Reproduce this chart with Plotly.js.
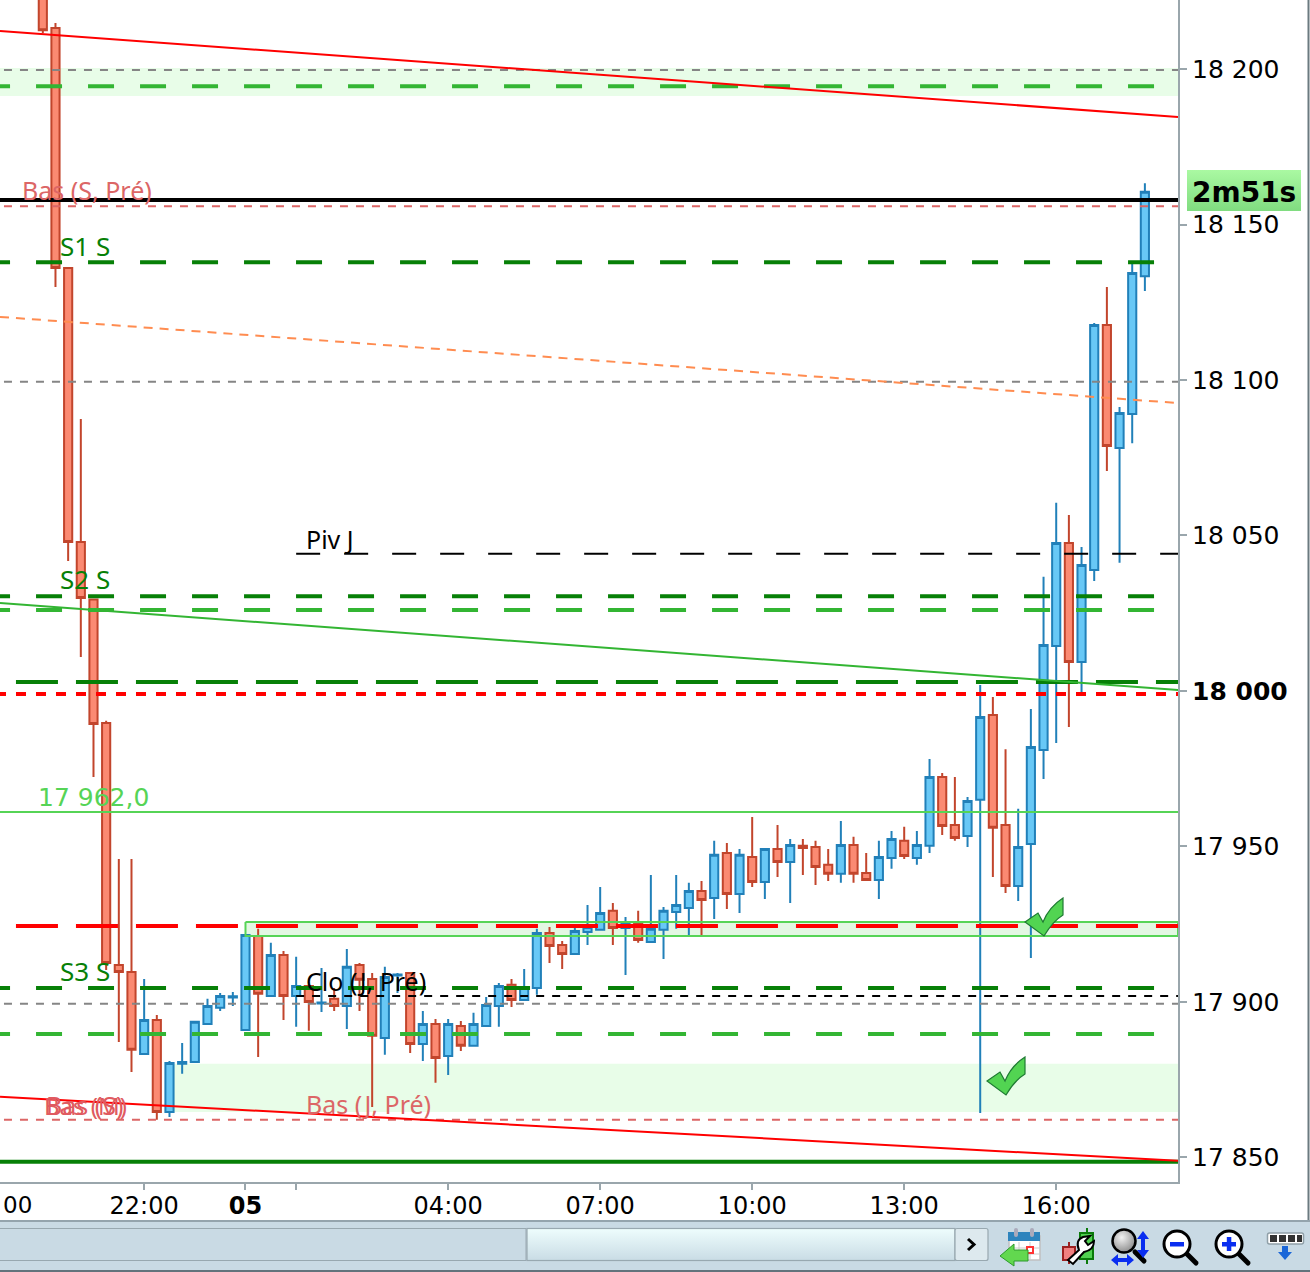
<!DOCTYPE html>
<html>
<head>
<meta charset="utf-8">
<script src="https://cdn.plot.ly/plotly-3.0.1.min.js"></script>
<style>html,body{margin:0;padding:0;background:#fff;overflow:hidden}#c{width:1310px;height:1272px}</style>
</head>
<body>
<div id="c"></div>
<script>
// ---------- candle values (15 minute bars, from 20:00 on the 4th) ----------
const firstBar = Date.UTC(2024, 5, 4, 20, 0);
const open = [18236,18213.2,18136.0,18047.9,18029.4,17989.7,17911.9,17909.6,17883.3,17894.2,17864.6,17880.1,17880.7,17892.9,17898.1,17901.4,17891.0,17921.2,17901.9,17915.1,17901.9,17905.1,17899.5,17901.0,17898.7,17911.9,17907.4,17888.4,17908.5,17909.3,17886.5,17892.9,17882.6,17892.3,17885.9,17892.3,17898.7,17905.5,17900.6,17904.5,17922.2,17918.3,17915.4,17922.5,17923.2,17929.3,17923.8,17925.4,17919.3,17923.2,17928.9,17930.2,17935.7,17933.4,17947.9,17934.7,17946.6,17938.6,17949.2,17945.0,17950.2,17949.8,17944.1,17941.2,17950.5,17941.5,17939.2,17946.3,17951.8,17946.3,17950.2,17972.3,17956.9,17953.4,17965.0,17992.3,17956.9,17937.3,17950.8,17981.0,18014.5,18047.6,18009.3,18038.9,18117.7,18078.1,18089.1,18133.4];
const close = [18212.5,18136.0,18047.9,18029.9,17989.4,17912.5,17909.6,17884.6,17894.2,17864.6,17880.4,17880.7,17893.6,17898.7,17901.9,17901.8,17921.5,17902.6,17915.1,17901.9,17905.1,17900.0,17899.8,17898.7,17911.3,17907.1,17889.1,17908.0,17908.8,17886.5,17892.9,17882.0,17892.9,17885.9,17892.9,17899.0,17905.1,17900.6,17904.8,17922.2,17918.0,17915.4,17922.8,17924.1,17928.6,17923.8,17925.4,17919.9,17923.5,17929.3,17931.2,17935.7,17932.8,17947.3,17934.7,17947.3,17938.6,17949.2,17945.0,17950.5,17949.5,17943.4,17941.2,17950.5,17941.2,17939.2,17946.6,17952.4,17946.9,17950.5,17972.3,17956.6,17952.7,17964.6,17991.6,17956.0,17937.3,17949.8,17982.0,18014.8,18047.6,18009.3,18040.5,18117.7,18078.8,18089.4,18134.4,18160.5];
const high = [18240,18214.8,18136.0,18087.5,18029.4,17990.4,17946.0,17946.0,17907.4,17895.8,17881.0,17886.8,17893.6,17901.0,17902.9,17903.2,17921.5,17923.5,17919.0,17916.4,17914.5,17905.5,17910.9,17904.5,17917.0,17912.5,17909.3,17911.3,17909.3,17909.6,17897.1,17894.5,17894.5,17893.9,17896.5,17901.6,17906.1,17907.4,17910.6,17923.5,17924.1,17919.6,17923.8,17931.2,17937.0,17931.8,17927.3,17929.3,17940.8,17930.5,17940.8,17938.3,17938.9,17951.8,17951.1,17949.2,17959.5,17949.2,17956.9,17952.4,17952.4,17951.8,17949.2,17958.2,17953.1,17947.9,17951.8,17955.0,17956.3,17955.0,17978.1,17973.6,17972.3,17965.9,18001.9,17998.1,17981.3,17962.1,17994.2,18036.7,18060.5,18056.6,18046.3,18118.3,18129.9,18091.3,18137.6,18163.3];
const low = [18211.6,18129.9,18041.8,18010.9,17972.3,17910.3,17887.1,17877.5,17883.3,17862.1,17863.0,17876.9,17880.7,17892.9,17897.1,17898.7,17891.0,17882.3,17901.9,17894.2,17892.0,17890.7,17896.8,17897.1,17891.3,17897.1,17866.2,17883.0,17902.9,17883.6,17881.0,17874.0,17876.5,17884.2,17885.9,17892.3,17892.0,17898.4,17900.6,17902.3,17912.5,17910.6,17915.4,17918.3,17923.2,17918.3,17908.7,17919.0,17919.3,17913.8,17923.5,17921.5,17921.5,17926.7,17929.9,17928.6,17937.0,17933.1,17940.2,17931.8,17940.8,17937.6,17938.9,17938.3,17938.3,17939.2,17933.1,17942.8,17946.0,17944.1,17947.9,17953.7,17951.8,17949.8,17864.3,17940.2,17935.0,17932.5,17914.1,17971.7,17983.3,17988.4,17999.4,18035.4,18070.7,18041.2,18079.7,18128.6];
const pad = n => String(n).padStart(2, '0');
const stamp = ms => { const d = new Date(ms); return `${d.getUTCFullYear()}-${pad(d.getUTCMonth()+1)}-${pad(d.getUTCDate())} ${pad(d.getUTCHours())}:${pad(d.getUTCMinutes())}:${pad(d.getUTCSeconds())}`; };
const times = open.map((_, i) => stamp(firstBar + i * 900000));

// ---------- axes ----------
const xRange = ['2024-06-04 19:09:18', '2024-06-05 18:24:13'];
const yRange = [17842.1, 18222.2];
const yTicks = [17850,17900,17950,18000,18050,18100,18150,18200];
const yLabels = ['17 850','17 900','17 950','<b>18 000</b>','18 050','18 100','18 150','18 200'];
const xTicks = ['2024-06-04 22:00','2024-06-05 00:00','2024-06-05 01:00','2024-06-05 04:00','2024-06-05 07:00','2024-06-05 10:00','2024-06-05 13:00','2024-06-05 16:00'];
const xLabels = ['22:00','<b>05</b>','','04:00','07:00','10:00','13:00','16:00'];

// ---------- line start times ----------
const end = xRange[1];
const dayStart = xRange[0];
const longDashStart = '2024-06-04 18:50:24';
const wideDashStart = '2024-06-04 19:28:12';
const dotStart = '2024-06-04 19:04:34';
const fineStart = '2024-06-04 19:14:00';
const pivStart = '2024-06-05 01:00';

// ---------- price levels ----------
const trendTop = [18212.2, 18184.6];
const trendOrange = [18120.3, 18092.6];
const trendGreen = [18028.3, 18000.3];
const trendLow = [17869.5, 17848.9];
const greyLevels = [18199.7, 18099.4, 17899.4];
const pinkLevels = [18155.9, 17862.1];
const lightGreenLevels = [18194.5, 18026.0, 17889.7];
const darkGreenLevels = [18137.9, 18030.5, 17904.5];
const darkGreenWide = 18002.9;
const redDotted = 17999.0;
const redWide = 17924.4;
const blackLevel = 18157.9;
const pivLevel = 18044.1;
const cloLevel = 17901.9;
const greenSolid = 17961.1;
const greenFloor = 17848.6;
const bandTop = [18200.3, 18191.3];
const bandLow = [17880.1, 17864.6];
const bandLowStart = '2024-06-04 22:30';
const boxLevels = [17925.7, 17921.2];
const boxStart = '2024-06-05 00:00';

// ---------- colours ----------
const GREEN_L = '#33b533', GREEN_D = '#078007', GREY = '#858585', PINK = '#dc6666', GREEN_S = '#56d456';
const DASH_LONG = '26px,26px', DASH_WIDE = '42px,18px', DASH_DOT = '10px,10px', DASH_FINE = '8px,8px';

const line = (x, y, color, width, dash) => ({
  type: 'scatter', mode: 'lines', x, y, hoverinfo: 'skip', showlegend: false,
  line: {color, width, dash: dash || 'solid', simplify: false}
});
const level = (x0, v, color, width, dash) => line([x0, end], [v, v], color, width, dash);

const traces = [{
  type: 'candlestick', x: times, open, high, low, close,
  whiskerwidth: 0, hoverinfo: 'skip', showlegend: false,
  increasing: {fillcolor: '#68c8f6', line: {color: '#2180b9', width: 2}},
  decreasing: {fillcolor: '#fb8a72', line: {color: '#c2452c', width: 2}}
}];
greyLevels.forEach(v => traces.push(level(fineStart, v, GREY, 2, DASH_FINE)));
pinkLevels.forEach(v => traces.push(level(fineStart, v, PINK, 2, DASH_FINE)));
lightGreenLevels.forEach(v => traces.push(level(longDashStart, v, GREEN_L, 4, DASH_LONG)));
darkGreenLevels.forEach(v => traces.push(level(longDashStart, v, GREEN_D, 4, DASH_LONG)));
traces.push(level(wideDashStart, darkGreenWide, GREEN_D, 4, DASH_WIDE));
traces.push(level(dotStart, redDotted, '#ff0000', 4, DASH_DOT));
traces.push(level(dayStart, blackLevel, '#000000', 4));
traces.push(level(pivStart, pivLevel, '#000000', 2, '24px,24px'));
traces.push(level(pivStart, cloLevel, '#000000', 2, DASH_FINE));
traces.push(level(dayStart, greenSolid, GREEN_S, 2));
traces.push(level(dayStart, greenFloor, GREEN_D, 4));
traces.push(line([boxStart, end, end, boxStart, boxStart], [boxLevels[0], boxLevels[0], boxLevels[1], boxLevels[1], boxLevels[0]], GREEN_S, 2));
traces.push(level(wideDashStart, redWide, '#ff0000', 4, DASH_WIDE));
traces.push(line([dayStart, end], trendTop, '#ff0000', 2));
traces.push(line([dayStart, end], trendOrange, '#ff8c50', 2, '9px,7px'));
traces.push(line([dayStart, end], trendGreen, GREEN_L, 2));
traces.push(line([dayStart, end], trendLow, '#ff0000', 2));

// ---------- page furniture ----------
const PW = 1178, PH = 1182;
const px = x => x / PW, py = y => 1 - y / PH;
const note = (text, x, y, color, size, anchor, family) => ({
  text, xref: 'paper', yref: 'paper', x: px(x), y: py(y), showarrow: false,
  xanchor: anchor || 'left', yanchor: 'middle',
  font: {family: family || 'Noto Sans', size, color}
});
const svg = s => 'data:image/svg+xml;charset=utf-8,' + encodeURIComponent(s);
const pic = (source, x, y, w, h) => ({
  source, xref: 'paper', yref: 'paper', x: px(x), y: py(y), sizex: w / PW, sizey: h / PH,
  xanchor: 'left', yanchor: 'top', sizing: 'stretch', layer: 'above'
});
const CHECK = svg('<svg xmlns="http://www.w3.org/2000/svg" width="40" height="40" viewBox="0 0 40 40"><path d="M1,25 L14,16 L19,25 Q25,10 39,1 L39,18 Q29,24 20,39 Z" fill="#52d452" stroke="#1f7a33" stroke-width="1.2"/></svg>');
const TIMER = svg('<svg xmlns="http://www.w3.org/2000/svg" width="114" height="41"><defs><linearGradient id="g" x1="0" y1="0" x2="0" y2="1"><stop offset="0" stop-color="#aaf9a2"/><stop offset="1" stop-color="#80dc80"/></linearGradient></defs><rect width="114" height="41" fill="url(#g)"/></svg>');
const lens = (cx, cy, mark) => `<line x1="${cx+9}" y1="${cy+9}" x2="${cx+19}" y2="${cy+19}" stroke="#000" stroke-width="5" stroke-linecap="round"/><circle cx="${cx}" cy="${cy}" r="13" fill="#fff" stroke="#000" stroke-width="3"/>${mark}`;
const TOOLBAR = svg(`<svg xmlns="http://www.w3.org/2000/svg" width="1310" height="52" viewBox="0 1220 1310 52">
<defs><linearGradient id="t" x1="0" y1="0" x2="0" y2="1"><stop offset="0" stop-color="#eefdfd"/><stop offset="1" stop-color="#c9dce5"/></linearGradient>
<radialGradient id="b" cx="0.4" cy="0.35" r="0.7"><stop offset="0" stop-color="#f2f2f2"/><stop offset="1" stop-color="#888"/></radialGradient></defs>
<rect x="0" y="1220" width="1310" height="52" fill="#c9dae4"/>
<rect x="0" y="1220" width="1310" height="2" fill="#94a4ad"/>
<rect x="0" y="1270" width="1310" height="2" fill="#63737c"/>
<rect x="-2" y="1228.5" width="528" height="32" fill="#c9dae4" stroke="#98a8b0" stroke-width="1"/>
<rect x="527" y="1228.5" width="428" height="32" fill="url(#t)" stroke="#98a8b0" stroke-width="1.2"/>
<rect x="955" y="1228.5" width="33" height="32" rx="2" fill="#dde9ee" stroke="#98a8b0" stroke-width="1.2"/>
<path d="M968,1239 L974,1244.5 L968,1250" fill="none" stroke="#000" stroke-width="3"/>
<rect x="1009" y="1236" width="31" height="24" fill="#fff" stroke="#c0c0c0" stroke-width="1.5"/>
<path d="M1009,1248 H1040 M1009,1254 H1040 M1019,1242 V1260 M1030,1242 V1260" stroke="#ccc" stroke-width="1"/>
<rect x="1008" y="1232" width="32" height="9" fill="#2d84bd"/>
<rect x="1014" y="1228" width="4" height="9" rx="2" fill="#aab"/><rect x="1030" y="1228" width="4" height="9" rx="2" fill="#aab"/>
<rect x="1027" y="1247" width="6" height="6" fill="#fff" stroke="#f33" stroke-width="2"/>
<path d="M1000,1256 L1014,1244 V1250 H1028 V1261 H1014 V1266 Z" fill="#62d84f" stroke="#2c9a2c" stroke-width="1"/>
<path d="M1069,1242 V1264" stroke="#9c2020" stroke-width="2"/>
<path d="M1087,1228 V1264" stroke="#0a7a0a" stroke-width="2"/>
<rect x="1063" y="1247" width="12" height="13" fill="#f08080" stroke="#9c2020" stroke-width="2"/>
<rect x="1080" y="1233" width="13" height="26" fill="#50d050" stroke="#0a7a0a" stroke-width="2"/>
<path d="M1068,1260 L1079,1250 Q1075,1240 1083,1237 L1090,1236 L1085,1241 L1088,1245 L1094,1241 Q1094,1250 1084,1252 L1073,1264 Z" fill="#fff" stroke="#000" stroke-width="2"/>
<line x1="1135" y1="1252" x2="1144" y2="1261" stroke="#000" stroke-width="5" stroke-linecap="round"/>
<circle cx="1124" cy="1241" r="11.5" fill="url(#b)" stroke="#000" stroke-width="2.5"/>
<path d="M1143,1231 L1137,1239 H1141 V1250 H1137 L1143,1258 L1149,1250 H1145 V1239 H1149 Z" fill="#0a2ef0"/>
<path d="M1111,1260 L1118,1254 V1258 H1127 V1254 L1134,1260 L1127,1266 V1262 H1118 V1266 Z" fill="#0a2ef0"/>
${lens(1177, 1244, '<rect x="1170" y="1242" width="14" height="4.5" fill="#0a2ef0"/>')}
${lens(1229, 1244, '<rect x="1222" y="1242" width="14" height="4.5" fill="#0a2ef0"/><rect x="1226.8" y="1237" width="4.5" height="14" fill="#0a2ef0"/>')}
<rect x="1267.5" y="1233" width="36" height="11" rx="2" fill="#fff" stroke="#90a0a8" stroke-width="1.5"/>
<rect x="1270" y="1235" width="7" height="7" fill="#333"/><rect x="1279" y="1235" width="7" height="7" fill="#333"/><rect x="1288" y="1235" width="7" height="7" fill="#333"/><rect x="1297" y="1235" width="5" height="7" fill="#333"/>
<path d="M1282,1246 H1288 V1252 H1292 L1285,1260 L1278,1252 H1282 Z" fill="#1a66d8"/>
</svg>`);

const band = (x0, vals) => ({type: 'rect', layer: 'below', xref: 'x', yref: 'y', x0, x1: end, y0: vals[0], y1: vals[1], fillcolor: '#e8fde8', line: {width: 0}});

const layout = {
  width: 1310, height: 1272, autosize: false,
  margin: {l: 0, r: 132, t: 0, b: 90, pad: 0},
  paper_bgcolor: '#ffffff', plot_bgcolor: '#ffffff',
  showlegend: false, boxgap: 0.08, hovermode: false, dragmode: false,
  xaxis: {
    type: 'date', range: xRange, rangeslider: {visible: false}, showgrid: false, zeroline: false,
    showline: true, linecolor: '#9aa6ac', linewidth: 2, ticks: 'outside', ticklen: 6, tickwidth: 2, tickcolor: '#9aa6ac',
    tickmode: 'array', tickvals: xTicks, ticktext: xLabels, tickangle: 0, ticklabelstandoff: -5,
    tickfont: {family: 'DejaVu Sans', size: 24, color: '#000'}
  },
  yaxis: {
    side: 'right', range: yRange, showgrid: false, zeroline: false,
    showline: true, linecolor: '#9aa6ac', linewidth: 2, ticks: 'outside', ticklen: 7, tickwidth: 2, tickcolor: '#9aa6ac',
    tickmode: 'array', tickvals: yTicks, ticktext: yLabels,
    tickfont: {family: 'DejaVu Sans', size: 25, color: '#000'}
  },
  shapes: [
    band(dayStart, bandTop),
    band(bandLowStart, bandLow),
    {type: 'rect', layer: 'below', xref: 'x', yref: 'y', x0: boxStart, x1: end, y0: boxLevels[0], y1: boxLevels[1], fillcolor: '#e3f7e3', line: {width: 0}},
    {type: 'line', xref: 'paper', yref: 'paper', x0: px(1308.5), x1: px(1308.5), y0: py(0), y1: py(1220), line: {color: '#6b7a80', width: 2}}
  ],
  images: [
    pic(CHECK, 1024, 897, 40, 40),
    pic(CHECK, 986, 1056, 40, 40),
    pic(TIMER, 1187, 170, 114, 41),
    pic(TOOLBAR, 0, 1220, 1310, 52)
  ],
  annotations: [
    note('Bas (S, Pré)', 20, 190, PINK, 25),
    note('S1 S', 58, 246, GREEN_D, 26),
    note('S2 S', 58, 579, GREEN_D, 26),
    note('S3 S', 58, 971, GREEN_D, 26),
    note('Piv J', 304, 539, '#000000', 25),
    note('17 962,0', 36, 797, GREEN_S, 25, 'left', 'DejaVu Sans'),
    note('Clo (J, Pré)', 304, 981, '#000000', 25),
    note('Bas (J, Pré)', 304, 1104, PINK, 25),
    note('Bas (M)', 42, 1105, '#e05a60', 24),
    note('Bas (S)', 44, 1105, '#e05a60', 25),
    note('00', 0.5, 1205, '#000000', 23, 'left', 'DejaVu Sans'),
    note('<b>2m51s</b>', 1244, 192, '#000000', 28, 'center', 'DejaVu Sans')
  ]
};
Plotly.newPlot('c', traces, layout, {displayModeBar: false, staticPlot: true, responsive: false});
</script>
</body>
</html>
